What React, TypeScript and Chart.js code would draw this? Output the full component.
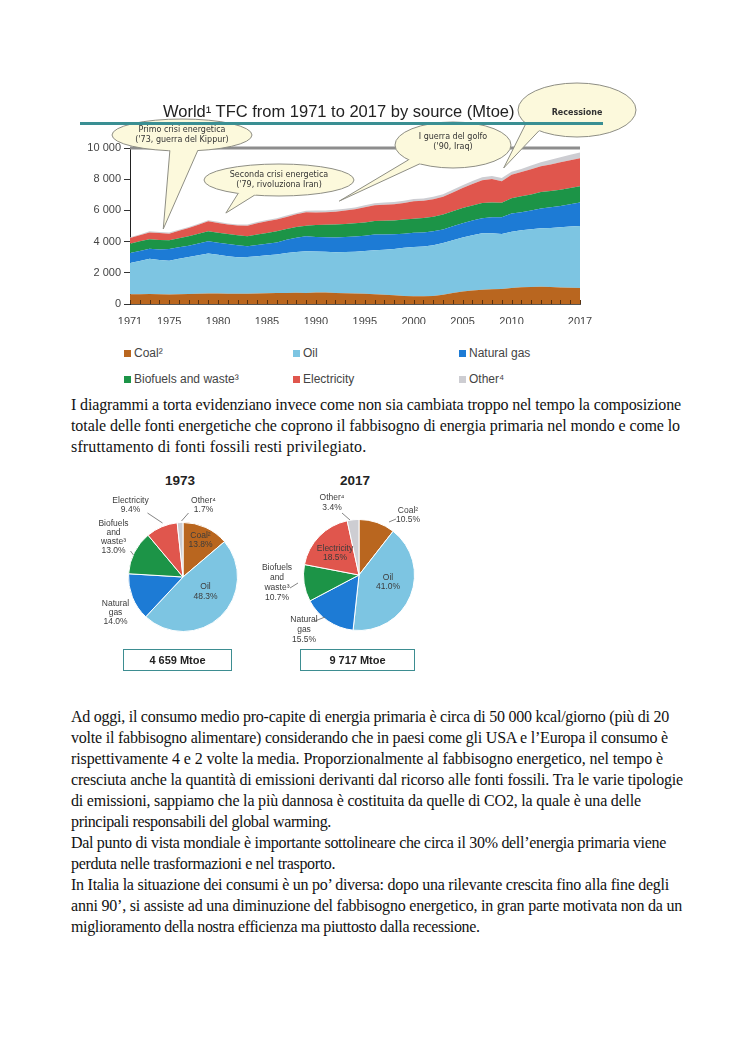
import React, { useEffect, useLayoutEffect, useRef } from "react";
import { Chart, registerables } from "chart.js";

Chart.register(...registerables);
Chart.defaults.font.family = "'Liberation Sans', Arial, sans-serif";

// ---------------- DATA ----------------
const years = [
  1971, 1972, 1973, 1974, 1975, 1976, 1977, 1978, 1979, 1980,
  1981, 1982, 1983, 1984, 1985, 1986, 1987, 1988, 1989, 1990,
  1991, 1992, 1993, 1994, 1995, 1996, 1997, 1998, 1999, 2000,
  2001, 2002, 2003, 2004, 2005, 2006, 2007, 2008, 2009, 2010,
  2011, 2012, 2013, 2014, 2015, 2016, 2017,
];
const coal = [
  620, 630, 643, 630, 610, 630, 640, 660, 680, 670,
  660, 650, 660, 680, 690, 700, 710, 720, 710, 730,
  740, 710, 690, 680, 660, 630, 600, 560, 510, 500,
  500, 520, 600, 700, 800, 870, 920, 950, 960, 1020,
  1070, 1090, 1110, 1090, 1060, 1040, 1020,
];
const oil = [
  2010, 2130, 2250, 2190, 2170, 2270, 2370, 2470, 2550, 2480,
  2400, 2350, 2350, 2380, 2430, 2480, 2560, 2620, 2670, 2640,
  2610, 2610, 2640, 2670, 2730, 2810, 2880, 2970, 3090, 3150,
  3190, 3240, 3310, 3380, 3460, 3530, 3620, 3580, 3520, 3610,
  3650, 3700, 3740, 3780, 3860, 3920, 3984,
];
const naturalGas = [
  640, 640, 652, 680, 750, 740, 730, 750, 790, 780,
  790, 760, 690, 730, 750, 770, 850, 910, 960, 930,
  930, 950, 960, 970, 990, 1010, 980, 940, 900, 910,
  900, 900, 870, 900, 920, 950, 960, 1030, 1080, 1170,
  1160, 1200, 1270, 1330, 1360, 1440, 1506,
];
const biofuels = [
  600, 620, 606, 600, 550, 580, 600, 620, 640, 640,
  640, 640, 640, 660, 680, 710, 690, 680, 680, 760,
  800, 830, 840, 850, 850, 870, 870, 880, 910, 910,
  920, 940, 960, 970, 970, 970, 970, 940, 930, 980,
  1020, 1030, 1060, 1050, 1040, 1040, 1040,
];
const electricity = [
  360, 380, 438, 450, 430, 470, 530, 580, 640, 630,
  600, 630, 680, 730, 750, 760, 770, 820, 860, 810,
  800, 820, 860, 900, 970, 1010, 1040, 1050, 1070, 1110,
  1110, 1120, 1140, 1200, 1280, 1380, 1460, 1510, 1380, 1500,
  1560, 1620, 1650, 1690, 1760, 1770, 1798,
];
const other = [
  50, 60, 70, 70, 70, 70, 70, 70, 70, 70,
  70, 70, 80, 80, 80, 80, 90, 90, 100, 120,
  120, 120, 120, 120, 130, 130, 130, 140, 140, 150,
  150, 150, 160, 170, 180, 190, 190, 200, 210, 190,
  200, 240, 250, 300, 320, 350, 369,
];
const xTickYears = [1971, 1975, 1980, 1985, 1990, 1995, 2000, 2005, 2010, 2017];
const yTickValues = [0, 2000, 4000, 6000, 8000, 10000];

const seriesNames = ["Coal²", "Oil", "Natural gas", "Biofuels and waste³", "Electricity", "Other⁴"];
const seriesColors = ["#b9661f", "#7dc5e2", "#1d7bd5", "#1c9447", "#e0564d", "#cdcdd2"];

const chartTitle = "World¹ TFC from 1971 to 2017 by source (Mtoe)";

// annotations: text, tip year, tip value
const bubbleTexts = [
  ["Primo crisi energetica", "('73, guerra del Kippur)"],
  ["Seconda crisi energetica", "('79, rivoluziona Iran)"],
  ["I guerra del golfo", "('90, Iraq)"],
  ["Recessione"],
];
const bubbleTipYears = [1974.4, 1980.8, 1992.4, 2009.2];
const bubbleTipValues = [4810, 5830, 6600, 8720];

const pieCategories = ["Coal", "Oil", "Natural gas", "Biofuels and waste", "Electricity", "Other"];
const share1973 = [13.8, 48.3, 14.0, 13.0, 9.4, 1.7];
const share2017 = [10.5, 41.0, 15.5, 10.7, 18.5, 3.4];
const pieLabels1973 = [
  ["Coal²", "13.8%"],
  ["Oil", "48.3%"],
  ["Natural", "gas", "14.0%"],
  ["Biofuels", "and", "waste³", "13.0%"],
  ["Electricity", "9.4%"],
  ["Other⁴", "1.7%"],
];
const pieLabels2017 = [
  ["Coal²", "10.5%"],
  ["Oil", "41.0%"],
  ["Natural", "gas", "15.5%"],
  ["Biofuels", "and", "waste³", "10.7%"],
  ["Electricity", "18.5%"],
  ["Other⁴", "3.4%"],
];
const total1973 = "4 659 Mtoe";
const total2017 = "9 717 Mtoe";

const paragraph1 = [
  "I diagrammi a torta evidenziano invece come non sia cambiata troppo nel tempo la composizione",
  "totale delle fonti energetiche che coprono il fabbisogno di energia primaria nel mondo e come lo",
  "sfruttamento di fonti fossili resti privilegiato.",
];
const paragraph2 = [
  "Ad oggi, il consumo medio pro-capite di energia primaria è circa di 50 000 kcal/giorno (più di 20",
  "volte il fabbisogno alimentare) considerando che in paesi come gli USA e l’Europa il consumo è",
  "rispettivamente 4 e 2 volte la media. Proporzionalmente al fabbisogno energetico, nel tempo è",
  "cresciuta anche la quantità di emissioni derivanti dal ricorso alle fonti fossili. Tra le varie tipologie",
  "di emissioni, sappiamo che la più dannosa è costituita da quelle di CO2, la quale è una delle",
  "principali responsabili del global warming.",
  "Dal punto di vista mondiale è importante sottolineare che circa il 30% dell’energia primaria viene",
  "perduta nelle trasformazioni e nel trasporto.",
  "In Italia la situazione dei consumi è un po’ diversa: dopo una rilevante crescita fino alla fine degli",
  "anni 90’, si assiste ad una diminuzione del fabbisogno energetico, in gran parte motivata non da un",
  "miglioramento della nostra efficienza ma piuttosto dalla recessione.",
];
const p1Right = [681, 680, 426];
const p2Right = [669, 668, 663, 683, 641, 316, 666, 305, 669, 682, 467];

// ---------------- LAYOUT ----------------
const AREA_LEFT = 60;
const AREA_TOP = 80;
const AREA_W = 620;
const AREA_H = 250;

// bubble geometry (canvas px): cx, cy, rx, ry, tail angles, text offset
const bubbleGeom = [
  { cx: 122, cy: 55, rx: 70, ry: 16, a1: 100, a2: 77, dy: 0 },
  { cx: 219, cy: 100, rx: 75, ry: 16, a1: 123, a2: 109, dy: 0 },
  { cx: 393, cy: 65, rx: 58, ry: 23, a1: 140, a2: 125, dy: -3 },
  { cx: 517, cy: 30, rx: 59, ry: 27, a1: 150, a2: 130, dy: 3 },
];

function fmtThousands(v: number) {
  return String(v).replace(/\B(?=(\d{3})+(?!\d))/g, " ");
}

function AreaChart() {
  const ref = useRef<HTMLCanvasElement>(null);
  useEffect(() => {
    const series = [coal, oil, naturalGas, biofuels, electricity, other];
    const overlay = {
      id: "overlay",
      afterDraw(chart: any) {
        const ctx = chart.ctx;
        const xs = chart.scales.x;
        const ys = chart.scales.y;
        const a = chart.chartArea;
        ctx.save();
        ctx.strokeStyle = "#8d8d8d";
        ctx.lineWidth = 3;
        ctx.beginPath();
        ctx.moveTo(a.left, ys.getPixelForValue(10000));
        ctx.lineTo(a.right, ys.getPixelForValue(10000));
        ctx.stroke();
        ctx.strokeStyle = "#5a3210";
        ctx.lineWidth = 1;
        years.forEach((yr) => {
          const x = Math.round(xs.getPixelForValue(yr)) + 0.5;
          ctx.beginPath();
          ctx.moveTo(x, a.bottom);
          ctx.lineTo(x, a.bottom - 4);
          ctx.stroke();
        });
        bubbleGeom.forEach((g, i) => {
          const tx = xs.getPixelForValue(bubbleTipYears[i]);
          const ty = ys.getPixelForValue(bubbleTipValues[i]);
          const r1 = (g.a1 * Math.PI) / 180;
          const r2 = (g.a2 * Math.PI) / 180;
          const p1x = g.cx + g.rx * Math.cos(r1), p1y = g.cy + g.ry * Math.sin(r1);
          const p2x = g.cx + g.rx * Math.cos(r2), p2y = g.cy + g.ry * Math.sin(r2);
          ctx.fillStyle = "#fcf9dc";
          ctx.strokeStyle = "#8e8e84";
          ctx.lineWidth = 1;
          ctx.beginPath();
          ctx.ellipse(g.cx, g.cy, g.rx, g.ry, 0, 0, Math.PI * 2);
          ctx.fill();
          ctx.stroke();
          ctx.beginPath();
          ctx.moveTo(p1x, p1y);
          ctx.lineTo(tx, ty);
          ctx.lineTo(p2x, p2y);
          ctx.lineTo(g.cx + 0.8 * g.rx * Math.cos(r2), g.cy + 0.8 * g.ry * Math.sin(r2));
          ctx.lineTo(g.cx + 0.8 * g.rx * Math.cos(r1), g.cy + 0.8 * g.ry * Math.sin(r1));
          ctx.closePath();
          ctx.fill();
          ctx.beginPath();
          ctx.moveTo(p1x, p1y);
          ctx.lineTo(tx, ty);
          ctx.lineTo(p2x, p2y);
          ctx.stroke();
          const lines = bubbleTexts[i];
          ctx.fillStyle = "#333";
          ctx.font = lines.length === 1 ? "bold 8px 'DejaVu Sans'" : "8px 'DejaVu Sans'";
          ctx.textAlign = "center";
          ctx.textBaseline = "middle";
          const lh = 10.5;
          lines.forEach((t, k) => {
            ctx.fillText(t, g.cx, g.cy + g.dy + (k - (lines.length - 1) / 2) * lh);
          });
        });
        ctx.restore();
      },
    };
    const chart = new Chart(ref.current as HTMLCanvasElement, {
      type: "line",
      data: {
        datasets: series.map((d, i) => ({
          label: seriesNames[i],
          data: years.map((y, k) => ({ x: y, y: d[k] })),
          backgroundColor: seriesColors[i],
          borderColor: seriesColors[i],
          borderWidth: 0,
          pointRadius: 0,
          fill: i === 0 ? "origin" : "-1",
          tension: 0,
        })),
      },
      options: {
        responsive: false,
        animation: false,
        devicePixelRatio: 1,
        events: [],
        layout: { padding: { left: 10, right: 100, top: 68, bottom: 6 } },
        plugins: { legend: { display: false }, tooltip: { enabled: false }, title: { display: false } },
        scales: {
          x: {
            type: "linear",
            min: 1971,
            max: 2017,
            afterBuildTicks: (s: any) => {
              s.ticks = xTickYears.map((v) => ({ value: v }));
            },
            afterFit: (s: any) => {
              s.height = 20;
            },
            ticks: {
              autoSkip: false,
              maxRotation: 0,
              padding: 11,
              color: "#444",
              font: { size: 11 },
              callback: (v: any) => String(v),
            },
            grid: { display: false, drawTicks: false },
            border: { display: true, color: "#555", width: 1 },
          },
          y: {
            stacked: true,
            min: 0,
            max: 10000,
            afterBuildTicks: (s: any) => {
              s.ticks = yTickValues.map((v) => ({ value: v }));
            },
            afterFit: (s: any) => {
              s.width = 60;
            },
            ticks: {
              padding: 3,
              color: "#444",
              font: { size: 11 },
              callback: (v: any) => fmtThousands(v),
            },
            grid: { drawOnChartArea: false, tickLength: 6, color: "#333" },
            border: { display: true, color: "#222", width: 1 },
          },
        },
      },
      plugins: [overlay],
    } as any);
    return () => chart.destroy();
  }, []);
  return (
    <canvas
      ref={ref}
      width={AREA_W}
      height={AREA_H}
      style={{ position: "absolute", left: AREA_LEFT, top: AREA_TOP, width: AREA_W, height: AREA_H }}
    />
  );
}

type PieProps = {
  values: number[];
  cx: number;
  cy: number;
  radius: number;
  labels: string[][];
  labelPos: number[][];
  leaders: number[][];
};

function PieChart({ values, cx, cy, radius, labels, labelPos, leaders }: PieProps) {
  const ref = useRef<HTMLCanvasElement>(null);
  useEffect(() => {
    const size = 200;
    const pad = size / 2 - radius;
    const chart = new Chart(ref.current as HTMLCanvasElement, {
      type: "pie",
      data: {
        labels: pieCategories,
        datasets: [
          {
            data: values,
            backgroundColor: seriesColors,
            borderColor: "#ffffff",
            borderWidth: 1,
          },
        ],
      },
      options: {
        responsive: false,
        animation: false,
        devicePixelRatio: 1,
        events: [],
        layout: { padding: pad },
        plugins: { legend: { display: false }, tooltip: { enabled: false } },
      },
      plugins: [
        {
          id: "pieLabels",
          afterDraw(c: any) {
            const ctx = c.ctx;
            const a = c.chartArea;
            const ox = (a.left + a.right) / 2;
            const oy = (a.top + a.bottom) / 2;
            ctx.save();
            ctx.strokeStyle = "#666";
            ctx.lineWidth = 0.8;
            leaders.forEach((l) => {
              ctx.beginPath();
              ctx.moveTo(ox + l[0], oy + l[1]);
              ctx.lineTo(ox + l[2], oy + l[3]);
              ctx.stroke();
            });
            ctx.fillStyle = "#3c3c3c";
            ctx.font = "8.5px 'Liberation Sans'";
            ctx.textAlign = "center";
            ctx.textBaseline = "middle";
            labels.forEach((lines, i) => {
              const p = labelPos[i];
              lines.forEach((t, k) => {
                ctx.fillText(t, ox + p[0], oy + p[1] + k * p[2]);
              });
            });
            ctx.restore();
          },
        },
      ],
    } as any);
    return () => chart.destroy();
  }, []);
  return (
    <canvas
      ref={ref}
      width={200}
      height={200}
      style={{ position: "absolute", left: cx - 100, top: cy - 100, width: 200, height: 200 }}
    />
  );
}

const textStyle: React.CSSProperties = {
  position: "absolute",
  left: 71,
  whiteSpace: "nowrap",
  fontFamily: "'Liberation Serif', 'Times New Roman', serif",
  fontSize: 16,
  lineHeight: "21px",
  color: "#111",
};

export default function App() {
  const rootRef = useRef<HTMLDivElement>(null);
  useLayoutEffect(() => {
    const root = rootRef.current;
    if (!root) return;
    root.querySelectorAll<HTMLSpanElement>("span[data-right]").forEach((el) => {
      el.style.letterSpacing = "0px";
      const w = el.getBoundingClientRect().width;
      const target = Number(el.dataset.right) - 71;
      const n = (el.textContent || "").length;
      if (n > 1) {
        const ls = Math.max(-0.35, Math.min(0.15, (target - w) / n));
        el.style.letterSpacing = `${ls}px`;
      }
    });
  }, []);

  const legendCols = [124, 293, 459];
  const legendRows = [353, 379];

  return (
    <div
      ref={rootRef}
      style={{ position: "absolute", left: 0, top: 0, width: 744, height: 1052, overflow: "hidden", background: "#fff" }}
    >
      <AreaChart />
      <div
        style={{
          position: "absolute",
          left: 163,
          top: 101,
          fontFamily: "'Liberation Sans', Arial, sans-serif",
          fontSize: 16.5,
          lineHeight: "20px",
          color: "#222",
          whiteSpace: "nowrap",
        }}
      >
        {chartTitle}
      </div>
      <div style={{ position: "absolute", left: 80, top: 122, width: 523, height: 3, background: "#3a8f93" }} />

      {seriesNames.map((n, i) => (
        <div
          key={n}
          style={{
            position: "absolute",
            left: legendCols[i % 3],
            top: legendRows[Math.floor(i / 3)] - 8,
            height: 16,
            display: "flex",
            alignItems: "center",
            fontFamily: "'Liberation Sans', Arial, sans-serif",
            fontSize: 12,
            color: "#444",
            whiteSpace: "nowrap",
          }}
        >
          <span style={{ display: "inline-block", width: 7, height: 7, background: seriesColors[i], marginRight: 3 }} />
          {n}
        </div>
      ))}

      {paragraph1.map((t, i) => (
        <div key={"p1" + i} style={{ ...textStyle, top: 404 - 10.5 + i * 21 }}>
          <span data-right={p1Right[i]}>{t}</span>
        </div>
      ))}

      {[
        { left: 150, text: "1973" },
        { left: 325, text: "2017" },
      ].map((t) => (
        <div
          key={t.text}
          style={{
            position: "absolute",
            left: t.left,
            top: 472,
            width: 60,
            textAlign: "center",
            fontFamily: "'Liberation Sans', Arial, sans-serif",
            fontWeight: "bold",
            fontSize: 13.5,
            lineHeight: "18px",
            color: "#222",
          }}
        >
          {t.text}
        </div>
      ))}

      <PieChart
        values={share1973}
        cx={182.5}
        cy={577}
        radius={55}
        labels={pieLabels1973}
        labelPos={[
          [17.5, -41, 9],
          [22.5, 10, 10],
          [-67.5, 27, 9],
          [-69.5, -53, 9],
          [-52.5, -76, 9],
          [20.5, -76, 9],
        ]}
        leaders={[
          [-35.5, -64, -20.5, -54],
          [5.5, -64, -1.5, -56],
          [-52.5, -26, -49.5, -22],
        ]}
      />
      <PieChart
        values={share2017}
        cx={359}
        cy={575}
        radius={56}
        labels={pieLabels2017}
        labelPos={[
          [49, -64, 9],
          [29, 3, 9],
          [-55, 45, 10],
          [-82, -7, 10],
          [-24, -26, 9],
          [-27, -77, 10],
        ]}
        leaders={[
          [-17, -62, -9, -55],
          [37, -56, 30, -53],
          [-69, 13, -61, 8],
          [-44, 46, -34, 42],
        ]}
      />

      {[
        { left: 123, width: 109, text: total1973 },
        { left: 300, width: 115, text: total2017 },
      ].map((b) => (
        <div
          key={b.text}
          style={{
            position: "absolute",
            left: b.left,
            top: 649,
            width: b.width,
            height: 22,
            boxSizing: "border-box",
            border: "1.5px solid #3d8d91",
            display: "flex",
            alignItems: "center",
            justifyContent: "center",
            fontFamily: "'Liberation Sans', Arial, sans-serif",
            fontWeight: "bold",
            fontSize: 11,
            color: "#222",
          }}
        >
          {b.text}
        </div>
      ))}

      {paragraph2.map((t, i) => (
        <div key={"p2" + i} style={{ ...textStyle, top: 716 - 10.5 + i * 21 }}>
          <span data-right={p2Right[i]}>{t}</span>
        </div>
      ))}
    </div>
  );
}
